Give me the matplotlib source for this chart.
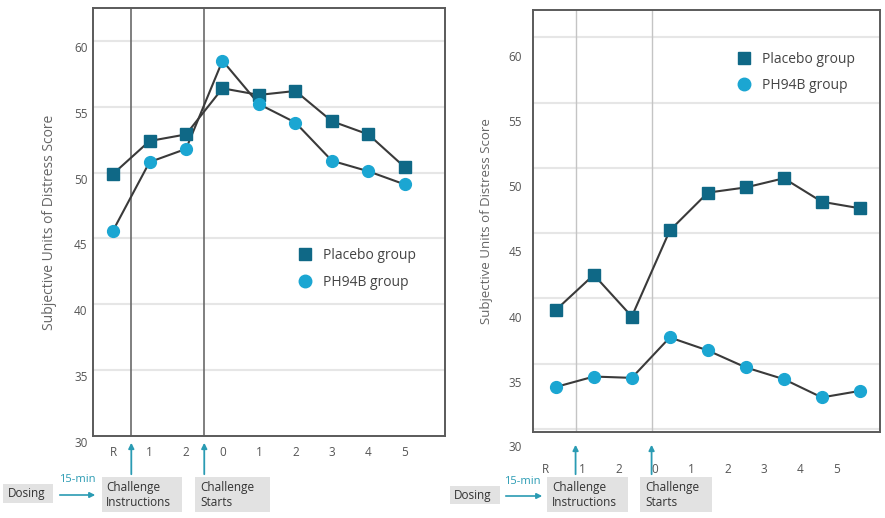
import numpy as np
import matplotlib
matplotlib.use("Agg")
import matplotlib.pyplot as plt
from matplotlib.lines import Line2D
from matplotlib.patches import Rectangle, FancyArrowPatch
import matplotlib.transforms as mtransforms

plt.rcParams['font.family'] = ['Open Sans', 'DejaVu Sans']

# ---------------- data ----------------
time_labels = ["R", "1", "2", "0", "1", "2", "3", "4", "5"]
left_placebo = [49.9, 52.4, 52.9, 56.4, 55.9, 56.2, 53.9, 52.9, 50.4]
left_ph94b = [45.6, 50.8, 51.8, 58.5, 55.2, 53.8, 50.9, 50.1, 49.1]
right_placebo = [40.5, 43.2, 40.0, 46.6, 49.5, 49.9, 50.6, 48.8, 48.3]
right_ph94b = [34.6, 35.4, 35.3, 38.4, 37.4, 36.1, 35.2, 33.8, 34.3]
y_ticks = [30, 35, 40, 45, 50, 55, 60]
series_names = ["Placebo group", "PH94B group"]
event_labels = ["Dosing", "Challenge\nInstructions", "Challenge\nStarts"]
interval_label = "15-min"
ylabel = "Subjective Units of Distress Score"

W, H = 885, 518
fig = plt.figure(figsize=(W / 100, H / 100), dpi=100)

C_PLA = "#0f6886"
C_PH = "#1ba6d2"
C_LINE = "#3a3a3a"
C_TEAL = "#2a9bb3"
C_TXT = "#555555"
C_GRID = "#e6e6e6"
C_BOX = "#e2e2e2"


def fx(px):
    return px / W


def fy(py):
    return 1 - py / H


def axes_px(l, t, r, b):
    return [fx(l), fy(b), fx(r) - fx(l), fy(t) - fy(b)]


x = np.arange(len(time_labels))

handles = [Line2D([], [], ls="none", marker="s", ms=8, color=C_PLA),
           Line2D([], [], ls="none", marker="o", ms=9, color=C_PH)]
leg_kw = dict(loc="upper left", frameon=False, fontsize=10, labelcolor="#444444",
              handletextpad=0.7, labelspacing=0.85, borderpad=0, handlelength=1.2)

# ---------------- left panel ----------------
axL = fig.add_axes(axes_px(93, 8, 445, 436))
axL.set_xlim(-0.55, 9.1)
axL.set_ylim(30, 62.5)
for yv in y_ticks[1:]:
    axL.axhline(yv, color=C_GRID, lw=1.5, zorder=0)
for xv in (0.5, 2.5):
    axL.axvline(xv, color="#6a6a6a", lw=1.2, zorder=1)
axL.plot(x, left_placebo, color=C_LINE, lw=1.5, zorder=2)
axL.plot(x, left_ph94b, color=C_LINE, lw=1.5, zorder=2)
axL.plot(x, left_placebo, ls="none", marker="s", ms=9, color=C_PLA, zorder=3)
axL.plot(x, left_ph94b, ls="none", marker="o", ms=8.5, color=C_PH, zorder=3)
axL.set_yticks(y_ticks)
axL.set_yticklabels([str(v) for v in y_ticks])
axL.set_xticks(x)
axL.set_xticklabels(time_labels)
axL.tick_params(axis="y", length=0, pad=4, labelsize=8.5, labelcolor=C_TXT)
axL.tick_params(axis="x", length=0, pad=7, labelsize=8.5, labelcolor=C_TXT)
off = mtransforms.ScaledTranslation(0, -6 / 100, fig.dpi_scale_trans)
for lab in axL.get_yticklabels():
    lab.set_transform(lab.get_transform() + off)
for sp in axL.spines.values():
    sp.set_color("#5a5a5a")
    sp.set_linewidth(1.4)
axL.set_ylabel(ylabel, fontsize=10, color="#666666", labelpad=12)
axL.legend(handles, series_names, bbox_to_anchor=(0.56, 0.455), **leg_kw)

# ---------------- right panel ----------------
axR = fig.add_axes(axes_px(533, 10, 880, 432))
axR.set_xlim(-0.6, 8.53)
axR.set_ylim(31.15, 63.5)
for yv in y_ticks:
    axR.axhline(yv + 1.4, color=C_GRID, lw=1.5, zorder=0)
for xv in (0.52, 2.52):
    axR.axvline(xv, color="#c4c4c4", lw=1.0, zorder=1)
axR.plot(x, right_placebo, color=C_LINE, lw=1.5, zorder=2)
axR.plot(x, right_ph94b, color=C_LINE, lw=1.5, zorder=2)
axR.plot(x, right_placebo, ls="none", marker="s", ms=8, color=C_PLA, zorder=3)
axR.plot(x, right_ph94b, ls="none", marker="o", ms=8.5, color=C_PH, zorder=3)
axR.set_yticks(y_ticks[1:])
axR.set_yticklabels([str(v) for v in y_ticks[1:]])
axR.text(-0.032, y_ticks[0], str(y_ticks[0]),
         transform=mtransforms.blended_transform_factory(axR.transAxes, axR.transData),
         ha="right", va="center", fontsize=8.5, color=C_TXT, clip_on=False)
axR.set_xticks(x * 0.955 - 0.26)
axR.set_xticklabels(time_labels)
axR.tick_params(axis="y", length=0, pad=8, labelsize=8.5, labelcolor=C_TXT)
axR.tick_params(axis="x", length=0, pad=22, labelsize=8.5, labelcolor=C_TXT)
for sp in axR.spines.values():
    sp.set_color("#5a5a5a")
    sp.set_linewidth(1.4)
axR.set_ylabel(ylabel, fontsize=9.5, color="#666666", labelpad=11)
axR.legend(handles, series_names, bbox_to_anchor=(0.565, 0.918), **leg_kw)


# ---------------- timeline annotations ----------------
def box(l, t, r, b, text, tx, ty):
    fig.patches.append(Rectangle((fx(l), fy(b)), fx(r) - fx(l), fy(t) - fy(b),
                                 transform=fig.transFigure, facecolor=C_BOX,
                                 edgecolor="none", zorder=1))
    fig.text(fx(tx), fy(ty), text, ha="left", va="center", fontsize=8.5,
             color="#333333", linespacing=1.2, zorder=2)


def harrow(x0, x1, y):
    fig.patches.append(FancyArrowPatch((fx(x0), fy(y)), (fx(x1), fy(y)),
                                       transform=fig.transFigure, arrowstyle="-|>",
                                       mutation_scale=8, color=C_TEAL, lw=1.2))


def varrow(ax, xd, y0, y1):
    tr = mtransforms.blended_transform_factory(ax.transData, fig.transFigure)
    ax.add_artist(FancyArrowPatch((xd, fy(y0)), (xd, fy(y1)), transform=tr,
                                  arrowstyle="-|>", mutation_scale=8, color=C_TEAL,
                                  lw=1.3, clip_on=False))


# left
box(3, 484, 53, 503, event_labels[0], 8, 494)
fig.text(fx(77), fy(479), interval_label, ha="center", va="center", fontsize=8, color=C_TEAL)
harrow(57, 98, 495)
box(102, 477, 182, 512, event_labels[1], 106, 495)
box(195, 477, 270, 512, event_labels[2], 200, 495)
varrow(axL, 0.5, 477, 440)
varrow(axL, 2.5, 477, 440)

# right
box(450, 486, 500, 504, event_labels[0], 454, 495)
fig.text(fx(522), fy(481), interval_label, ha="center", va="center", fontsize=8, color=C_TEAL)
harrow(503, 545, 496)
box(547, 477, 628, 512, event_labels[1], 552, 495)
box(640, 477, 712, 512, event_labels[2], 645, 495)
varrow(axR, 0.52, 477, 442)
varrow(axR, 2.52, 477, 442)

fig.savefig("out.png", dpi=100)
